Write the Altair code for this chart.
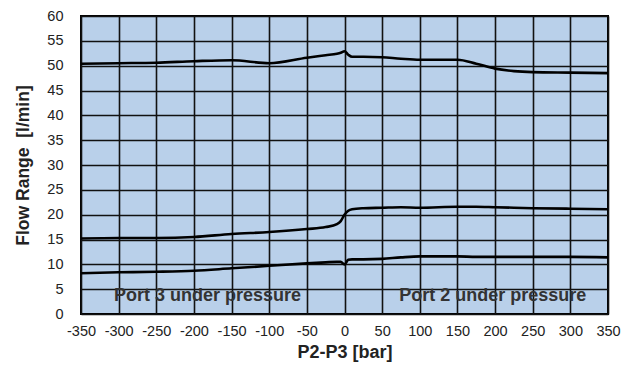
import altair as alt
import pandas as pd

x_vals = [-350, -300, -250, -200, -150, -100, -50, -25, -10, -5, 0, 5, 10, 25, 50, 75, 100, 150, 175, 200, 225, 250, 300, 350]
top_line = [50.4, 50.5, 50.6, 50.9, 51.1, 50.5, 51.6, 52.1, 52.4, 52.6, 52.9, 52.2, 51.8, 51.8, 51.7, 51.4, 51.2, 51.2, 50.4, 49.4, 48.9, 48.7, 48.6, 48.5]
mid_line = [15.2, 15.3, 15.3, 15.5, 16.1, 16.5, 17.1, 17.5, 18.1, 18.7, 20.0, 20.8, 21.1, 21.3, 21.4, 21.5, 21.4, 21.6, 21.6, 21.5, 21.4, 21.3, 21.2, 21.1]
low_line = [8.2, 8.4, 8.5, 8.7, 9.2, 9.7, 10.2, 10.4, 10.5, 10.5, 10.0, 10.9, 11.0, 11.0, 11.1, 11.4, 11.6, 11.6, 11.5, 11.5, 11.5, 11.5, 11.5, 11.4]

labels = ["Port 3 under pressure", "Port 2 under pressure"]
label_x = [-182, 197]
label_y = [3.6, 3.6]

x_ticks = list(range(-350, 351, 50))
y_ticks = list(range(0, 61, 5))

rows = []
for name, ys in [("top", top_line), ("mid", mid_line), ("low", low_line)]:
    for xv, yv in zip(x_vals, ys):
        rows.append({"series": name, "x": xv, "y": yv})
df = pd.DataFrame(rows)
df_lab = pd.DataFrame({"label": labels, "x": label_x, "y": label_y})

FONT = "Liberation Sans"

xs = alt.Scale(domain=[-350, 350], nice=False, zero=False)
ys = alt.Scale(domain=[0, 60], nice=False)

x_axis = alt.Axis(
    values=x_ticks, title="P2-P3 [bar]", grid=True, gridColor="#111", gridWidth=1.6,
    gridOpacity=1, ticks=False, domain=False, labelFont=FONT, labelFontSize=14.5,
    labelColor="#222", labelPadding=10, titleFont=FONT, titleFontSize=18,
    titleFontWeight="bold", titleColor="#222", titlePadding=6, labelFlush=False,
    labelOverlap=False, labelExpr="'' + datum.value")
y_axis = alt.Axis(
    values=y_ticks, title="Flow Range\u00a0 [l/min]", grid=True, gridColor="#111", gridWidth=1.6,
    gridOpacity=1, ticks=False, domain=False, labelFont=FONT, labelFontSize=14.5,
    labelColor="#222", labelPadding=18, titleFont=FONT, titleFontSize=17.5,
    titleFontWeight="bold", titleColor="#222", titlePadding=14, labelFlush=False,
    labelOverlap=False, labelExpr="'' + datum.value")

lines = alt.Chart(df).mark_line(color="black", strokeWidth=2.6, interpolate="monotone").encode(
    x=alt.X("x:Q", scale=xs, axis=x_axis),
    y=alt.Y("y:Q", scale=ys, axis=y_axis),
    detail="series:N",
)

text = alt.Chart(df_lab).mark_text(font=FONT, fontSize=18, fontWeight="bold", color="#333").encode(
    x=alt.X("x:Q", scale=xs, axis=x_axis), y=alt.Y("y:Q", scale=ys, axis=y_axis), text="label:N"
)

chart = (lines + text).properties(
    width=527, height=298,
    background="white",
    autosize=alt.AutoSizeParams(type="none"),
    padding={"left": 73, "top": 8, "right": 18, "bottom": 54},
).configure_view(
    fill="#B9D0EA", stroke="black", strokeWidth=2
)

chart.save("out.html", embed_options={"renderer": "svg", "actions": False})
